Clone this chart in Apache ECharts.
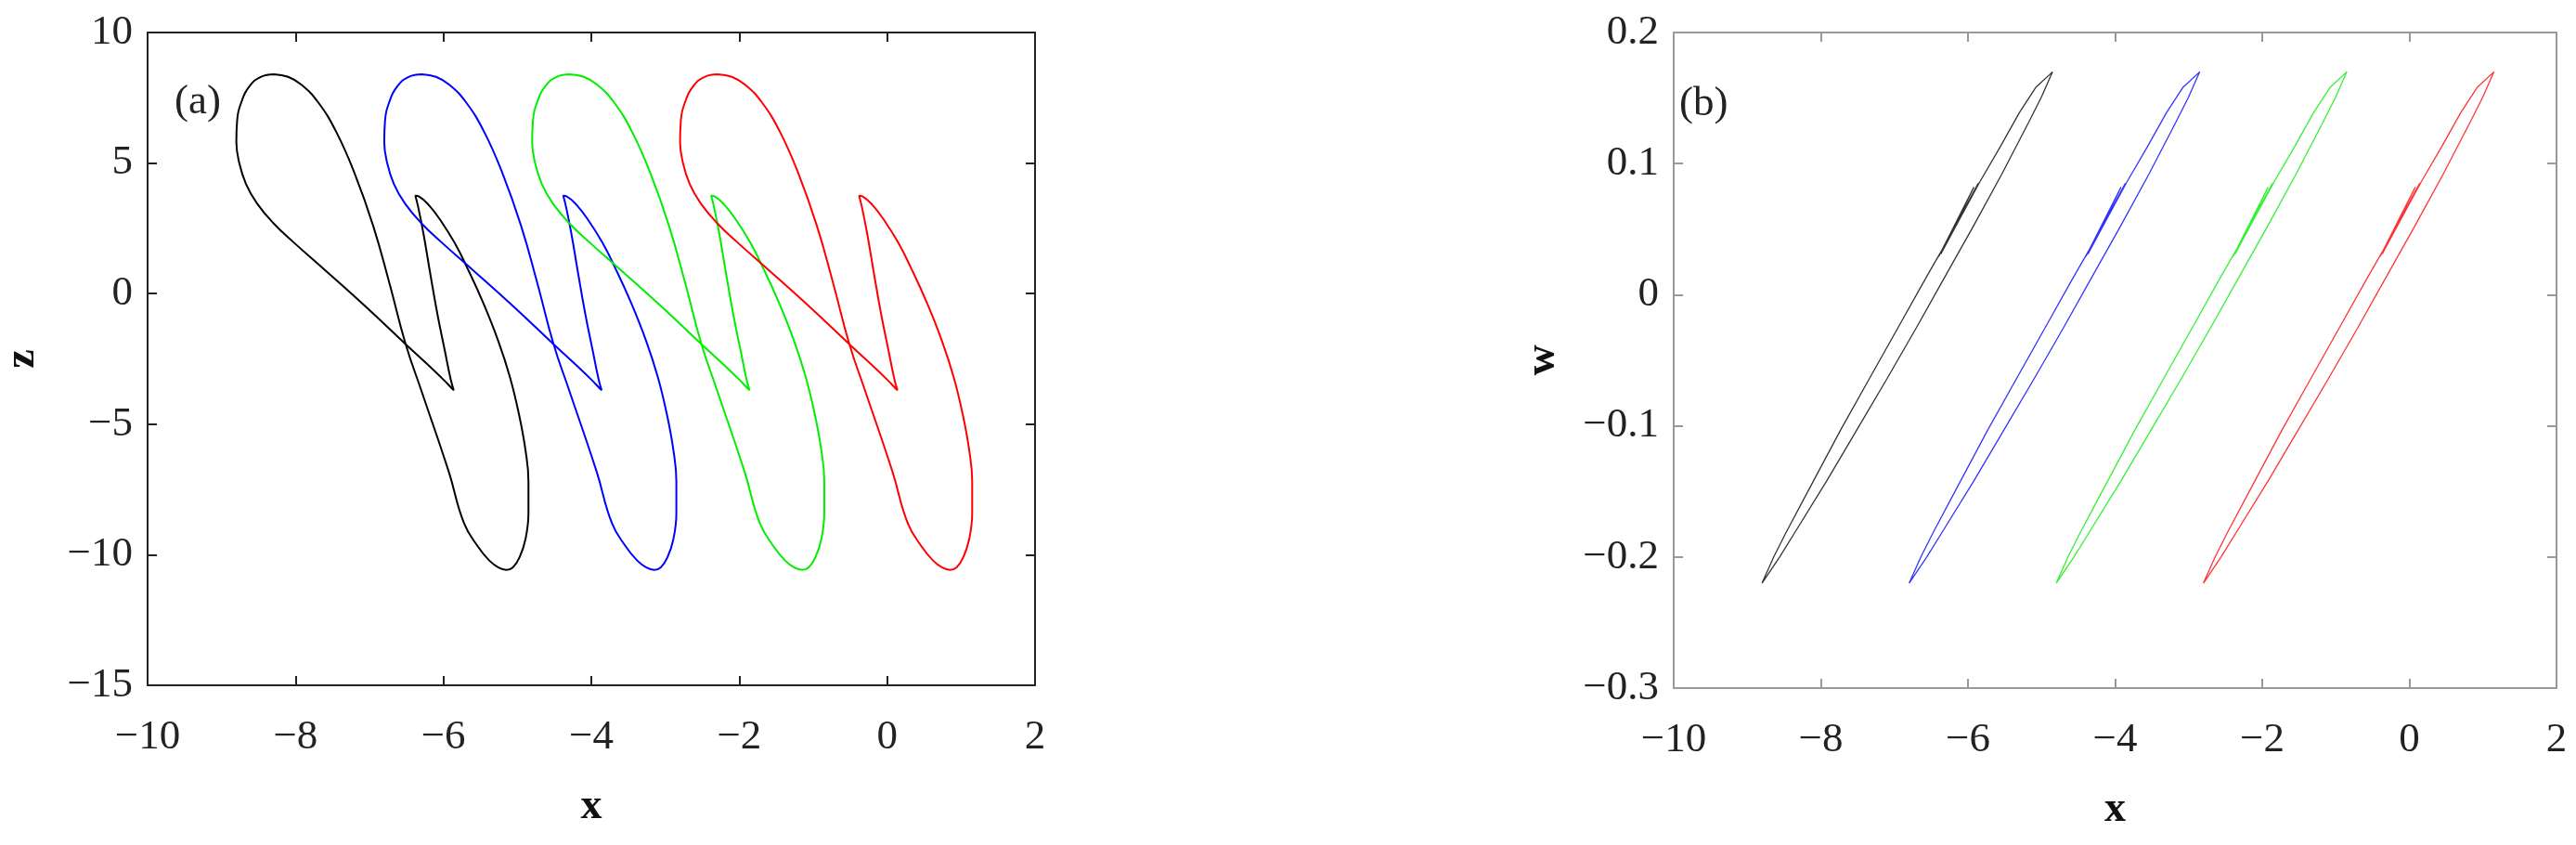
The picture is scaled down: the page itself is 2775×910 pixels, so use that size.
<!DOCTYPE html>
<html><head><meta charset="utf-8">
<script src="https://cdn.jsdelivr.net/npm/echarts@6/dist/echarts.min.js"></script>
<style>html,body{margin:0;padding:0;background:#fff}#c{width:2775px;height:910px}</style>
</head><body><div id="c"></div>
<script>
// ---- tick values and labels ----
const xTicks = [-10, -8, -6, -4, -2, 0, 2];
const xTickLabels = ['\u221210', '\u22128', '\u22126', '\u22124', '\u22122', '0', '2'];
const zTicks = [-15, -10, -5, 0, 5, 10];
const zTickLabels = ['\u221215', '\u221210', '\u22125', '0', '5', '10'];
const wTicks = [-0.3, -0.2, -0.1, 0, 0.1, 0.2];
const wTickLabels = ['\u22120.3', '\u22120.2', '\u22120.1', '0', '0.1', '0.2'];

// ---- panel (a): x vs z, four orbits (same z samples) ----
const zA = [8.40,8.30,7.95,7.35,6.60,5.80,5.00,4.20,3.45,2.70,1.95,0.90,-0.50,-1.94,-2.75,-3.35,-3.62,-3.70,-3.30,-2.20,-0.80,0.80,2.30,3.30,3.75,3.72,3.40,2.85,1.95,1.00,-0.30,-1.80,-3.20,-4.60,-6.00,-7.20,-8.40,-9.40,-10.10,-10.48,-10.58,-10.50,-10.22,-9.70,-8.80,-6.80,-3.70,-1.94,0.40,2.60,4.60,6.20,7.35,8.00,8.30,8.40];
const xA_black = [-8.29,-8.47,-8.62,-8.73,-8.79,-8.80,-8.76,-8.67,-8.52,-8.30,-8.02,-7.60,-7.05,-6.51,-6.20,-5.98,-5.89,-5.86,-5.90,-5.98,-6.08,-6.18,-6.27,-6.34,-6.38,-6.33,-6.20,-6.05,-5.85,-5.68,-5.47,-5.26,-5.10,-4.98,-4.89,-4.85,-4.85,-4.89,-4.97,-5.06,-5.15,-5.25,-5.38,-5.53,-5.72,-5.93,-6.30,-6.51,-6.73,-6.95,-7.20,-7.45,-7.70,-7.92,-8.10,-8.29];
const xA_blue = [-6.29,-6.47,-6.62,-6.73,-6.79,-6.80,-6.76,-6.67,-6.52,-6.30,-6.02,-5.60,-5.05,-4.51,-4.20,-3.98,-3.89,-3.86,-3.90,-3.98,-4.08,-4.18,-4.27,-4.34,-4.38,-4.33,-4.20,-4.05,-3.85,-3.68,-3.47,-3.26,-3.10,-2.98,-2.89,-2.85,-2.85,-2.89,-2.97,-3.06,-3.15,-3.25,-3.38,-3.53,-3.72,-3.93,-4.30,-4.51,-4.73,-4.95,-5.20,-5.45,-5.70,-5.92,-6.10,-6.29];
const xA_green = [-4.29,-4.47,-4.62,-4.73,-4.79,-4.80,-4.76,-4.67,-4.52,-4.30,-4.02,-3.60,-3.05,-2.51,-2.20,-1.98,-1.89,-1.86,-1.90,-1.98,-2.08,-2.18,-2.27,-2.34,-2.38,-2.33,-2.20,-2.05,-1.85,-1.68,-1.47,-1.26,-1.10,-0.98,-0.89,-0.85,-0.85,-0.89,-0.97,-1.06,-1.15,-1.25,-1.38,-1.53,-1.72,-1.93,-2.30,-2.51,-2.73,-2.95,-3.20,-3.45,-3.70,-3.92,-4.10,-4.29];
const xA_red = [-2.29,-2.47,-2.62,-2.73,-2.79,-2.80,-2.76,-2.67,-2.52,-2.30,-2.02,-1.60,-1.05,-0.51,-0.20,0.02,0.11,0.14,0.10,0.02,-0.08,-0.18,-0.27,-0.34,-0.38,-0.33,-0.20,-0.05,0.15,0.32,0.53,0.74,0.90,1.02,1.11,1.15,1.15,1.11,1.03,0.94,0.85,0.75,0.62,0.47,0.28,0.07,-0.30,-0.51,-0.73,-0.95,-1.20,-1.45,-1.70,-1.92,-2.10,-2.29];

// ---- panel (b): x vs w, four orbits (same w samples) ----
const wB = [-0.220,-0.200,-0.181,-0.142,-0.103,-0.064,-0.025,0.014,0.053,0.085,0.029,0.082,0.031,0.057,0.086,0.113,0.139,0.158,0.170,0.151,0.131,0.092,0.053,0.014,-0.025,-0.064,-0.103,-0.142,-0.181,-0.200,-0.220];
const xB_black = [-8.80,-8.64,-8.47,-8.10,-7.73,-7.34,-6.95,-6.56,-6.16,-5.86,-6.40,-5.92,-6.37,-6.12,-5.84,-5.56,-5.30,-5.08,-4.85,-5.00,-5.18,-5.54,-5.92,-6.31,-6.70,-7.10,-7.51,-7.92,-8.35,-8.56,-8.80];
const xB_blue = [-6.80,-6.64,-6.47,-6.10,-5.73,-5.34,-4.95,-4.56,-4.16,-3.86,-4.40,-3.92,-4.37,-4.12,-3.84,-3.56,-3.30,-3.08,-2.85,-3.00,-3.18,-3.54,-3.92,-4.31,-4.70,-5.10,-5.51,-5.92,-6.35,-6.56,-6.80];
const xB_green = [-4.80,-4.64,-4.47,-4.10,-3.73,-3.34,-2.95,-2.56,-2.16,-1.86,-2.40,-1.92,-2.37,-2.12,-1.84,-1.56,-1.30,-1.08,-0.85,-1.00,-1.18,-1.54,-1.92,-2.31,-2.70,-3.10,-3.51,-3.92,-4.35,-4.56,-4.80];
const xB_red = [-2.80,-2.64,-2.47,-2.10,-1.73,-1.34,-0.95,-0.56,-0.16,0.14,-0.40,0.08,-0.37,-0.12,0.16,0.44,0.70,0.92,1.15,1.00,0.82,0.46,0.08,-0.31,-0.70,-1.10,-1.51,-1.92,-2.35,-2.56,-2.80];

const orbitColors = ['#000000', '#0000ff', '#00ee00', '#ff0000'];

function pairs(xs, ys) { return xs.map((x, i) => [x, ys[i]]); }
function labelFor(ticks, labels) {
  return v => { const i = ticks.findIndex(t => Math.abs(t - v) < 1e-6); return i >= 0 ? labels[i] : ''; };
}

const FONT = '"Liberation Serif", "Times New Roman", serif';
function mkX(grid, pos, show, color, name) {
  return {
    type: 'value', gridIndex: grid, position: pos, min: -10, max: 2, interval: 2,
    axisLine: { show: true, onZero: false, lineStyle: { color: color, width: 2 } },
    axisTick: { show: true, inside: true, length: 10, lineStyle: { color: color, width: 2 } },
    splitLine: { show: false },
    axisLabel: { show: show, formatter: labelFor(xTicks, xTickLabels), fontFamily: FONT, fontSize: 45, color: '#222', margin: 34 },
    name: name, nameLocation: 'middle', nameGap: 108,
    nameTextStyle: { fontFamily: FONT, fontSize: 46, fontWeight: 'bold', color: '#111' }
  };
}
function mkY(grid, pos, show, color, name, mn, mx, iv, ticks, labels, gap) {
  return {
    type: 'value', gridIndex: grid, position: pos, min: mn, max: mx, interval: iv,
    axisLine: { show: true, onZero: false, lineStyle: { color: color, width: 2 } },
    axisTick: { show: true, inside: true, length: 10, lineStyle: { color: color, width: 2 } },
    splitLine: { show: false },
    axisLabel: { show: show, formatter: labelFor(ticks, labels), fontFamily: FONT, fontSize: 45, color: '#222', margin: 16, padding: [14, 0, 0, 0] },
    name: name, nameLocation: 'middle', nameGap: gap, nameRotate: 90,
    nameTextStyle: { fontFamily: FONT, fontSize: 46, fontWeight: 'bold', color: '#111' }
  };
}

const seriesA = [xA_black, xA_blue, xA_green, xA_red].map((xs, k) => ({
  type: 'line', xAxisIndex: 0, yAxisIndex: 0, data: pairs(xs, zA), showSymbol: false, smooth: 0.45,
  lineStyle: { color: orbitColors[k], width: 2 }, silent: true
}));
const seriesB = [xB_black, xB_blue, xB_green, xB_red].map((xs, k) => ({
  type: 'line', xAxisIndex: 2, yAxisIndex: 2, data: pairs(xs, wB), showSymbol: false, smooth: false,
  lineStyle: { color: orbitColors[k], width: 1.3, opacity: 0.8 }, silent: true
}));

const chart = echarts.init(document.getElementById('c'));
chart.setOption({
  animation: false,
  backgroundColor: '#ffffff',
  textStyle: { fontFamily: FONT },
  grid: [
    { left: 153, top: 35, width: 962, height: 703 },
    { left: 1803, top: 35, width: 951, height: 706 }
  ],
  xAxis: [
    mkX(0, 'bottom', true, '#222', 'x'),
    mkX(0, 'top', false, '#222', ''),
    mkX(1, 'bottom', true, '#999', 'x'),
    mkX(1, 'top', false, '#999', '')
  ],
  yAxis: [
    mkY(0, 'left', true, '#222', 'z', -15, 10, 5, zTicks, zTickLabels, 112),
    mkY(0, 'right', false, '#222', '', -15, 10, 5, zTicks, zTickLabels, 0),
    mkY(1, 'left', true, '#999', 'w', -0.3, 0.2, 0.1, wTicks, wTickLabels, 118),
    mkY(1, 'right', false, '#999', '', -0.3, 0.2, 0.1, wTicks, wTickLabels, 0)
  ],
  graphic: [
    { type: 'text', x: 188, y: 110, style: { text: '(a)', font: '45px "Liberation Serif"', fill: '#222', verticalAlign: 'middle' } },
    { type: 'text', x: 1809, y: 112, style: { text: '(b)', font: '45px "Liberation Serif"', fill: '#222', verticalAlign: 'middle' } }
  ],
  series: seriesA.concat(seriesB)
});
</script>
</body></html>
